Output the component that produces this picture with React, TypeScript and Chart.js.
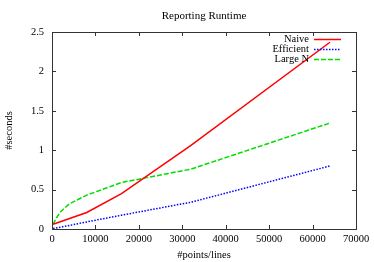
import React, { useEffect, useRef } from "react";
import { Chart, registerables } from "chart.js";

Chart.register(...registerables);

const xNaive = [250, 8000, 16000, 32000, 64000];
const yNaive = [0.06, 0.21, 0.45, 1.06, 2.37];
const xEfficient = [250, 4000, 8000, 16000, 32000, 64000];
const yEfficient = [0.005, 0.045, 0.09, 0.175, 0.34, 0.8];
const xLargeN = [250, 1000, 2000, 4000, 8000, 16000, 32000, 64000];
const yLargeN = [0.06, 0.14, 0.22, 0.32, 0.43, 0.59, 0.76, 1.345];

const seriesNames = ["Naive", "Efficient", "Large N"];
const seriesColors = ["#ff0000", "#0000ff", "#00dd00"];
const seriesDash = [[], [1.5, 1.5], [5, 2]];
const chartTitle = "Reporting Runtime";
const xTitle = "#points/lines";
const yTitle = "#seconds";

const FONT = "'Liberation Serif', 'Times New Roman', serif";

const toPts = (xs: number[], ys: number[]) => xs.map((x, i) => ({ x, y: ys[i] }));

const framePlugin = {
  id: "frame",
  afterDraw(chart: any) {
    const { ctx, chartArea: a, scales } = chart;
    ctx.save();
    ctx.strokeStyle = "#333";
    ctx.lineWidth = 1;
    ctx.strokeRect(Math.round(a.left) + 0.5, Math.round(a.top) + 0.5, Math.round(a.right - a.left), Math.round(a.bottom - a.top));
    const tl = 4;
    ctx.beginPath();
    scales.x.ticks.forEach((t: any) => {
      const px = Math.round(scales.x.getPixelForValue(t.value)) + 0.5;
      ctx.moveTo(px, a.bottom);
      ctx.lineTo(px, a.bottom - tl);
      ctx.moveTo(px, a.top);
      ctx.lineTo(px, a.top + tl);
    });
    scales.y.ticks.forEach((t: any) => {
      const py = Math.round(scales.y.getPixelForValue(t.value)) + 0.5;
      ctx.moveTo(a.left, py);
      ctx.lineTo(a.left + tl, py);
      ctx.moveTo(a.right, py);
      ctx.lineTo(a.right - tl, py);
    });
    ctx.stroke();

    // title
    ctx.fillStyle = "#000";
    ctx.font = `11px ${FONT}`;
    ctx.textAlign = "center";
    ctx.textBaseline = "middle";
    ctx.fillText(chartTitle, (a.left + a.right) / 2, 16);

    // legend
    ctx.font = `10.5px ${FONT}`;
    ctx.textAlign = "right";
    seriesNames.forEach((name, i) => {
      const y = 39.5 + i * 10;
      ctx.fillStyle = "#000";
      ctx.fillText(name, 309, y);
      ctx.strokeStyle = seriesColors[i];
      ctx.lineWidth = 1.5;
      ctx.setLineDash(seriesDash[i]);
      ctx.beginPath();
      ctx.moveTo(314, y);
      ctx.lineTo(341, y);
      ctx.stroke();
    });
    ctx.setLineDash([]);
    ctx.restore();
  },
};

export default function App() {
  const ref = useRef<HTMLCanvasElement | null>(null);
  useEffect(() => {
    if (!ref.current) return;
    const datasets = [
      toPts(xNaive, yNaive),
      toPts(xEfficient, yEfficient),
      toPts(xLargeN, yLargeN),
    ].map((data, i) => ({
      label: seriesNames[i],
      data,
      borderColor: seriesColors[i],
      borderWidth: 1.5,
      borderDash: seriesDash[i],
      pointRadius: 0,
      fill: false,
      tension: 0,
    }));
    const chart = new Chart(ref.current, {
      type: "line",
      data: { datasets },
      options: {
        animation: false,
        responsive: false,
        layout: { padding: { top: 32, right: 18, left: 0, bottom: 0 } },
        plugins: { legend: { display: false }, title: { display: false }, tooltip: { enabled: false } },
        scales: {
          x: {
            type: "linear",
            min: 0,
            max: 70000,
            afterFit: (s: any) => { s.height = 33; },
            grid: { display: false, drawTicks: false },
            border: { display: false },
            ticks: {
              stepSize: 10000,
              padding: 4,
              color: "#000",
              font: { family: FONT, size: 10.5 },
              maxRotation: 0,
              callback: (v: any) => String(v),
            },
            title: { display: true, text: xTitle, color: "#000", font: { family: FONT, size: 10.5 }, padding: { top: 1.5, bottom: 0 } },
          },
          y: {
            min: 0,
            max: 2.5,
            afterFit: (s: any) => { s.width = 52; },
            grid: { display: false, drawTicks: false },
            border: { display: false },
            ticks: {
              stepSize: 0.5,
              padding: 8,
              color: "#000",
              font: { family: FONT, size: 10.5 },
              callback: (v: any) => String(v),
            },
            title: { display: true, text: yTitle, color: "#000", font: { family: FONT, size: 10.5 }, padding: { top: 3, bottom: 0 } },
          },
        },
      },
      plugins: [framePlugin],
    });
    return () => chart.destroy();
  }, []);
  return (
    <div style={{ position: "absolute", left: 0, top: 0, width: 374, height: 262, background: "#fff" }}>
      <canvas ref={ref} width={374} height={262} style={{ width: 374, height: 262 }} />
    </div>
  );
}
